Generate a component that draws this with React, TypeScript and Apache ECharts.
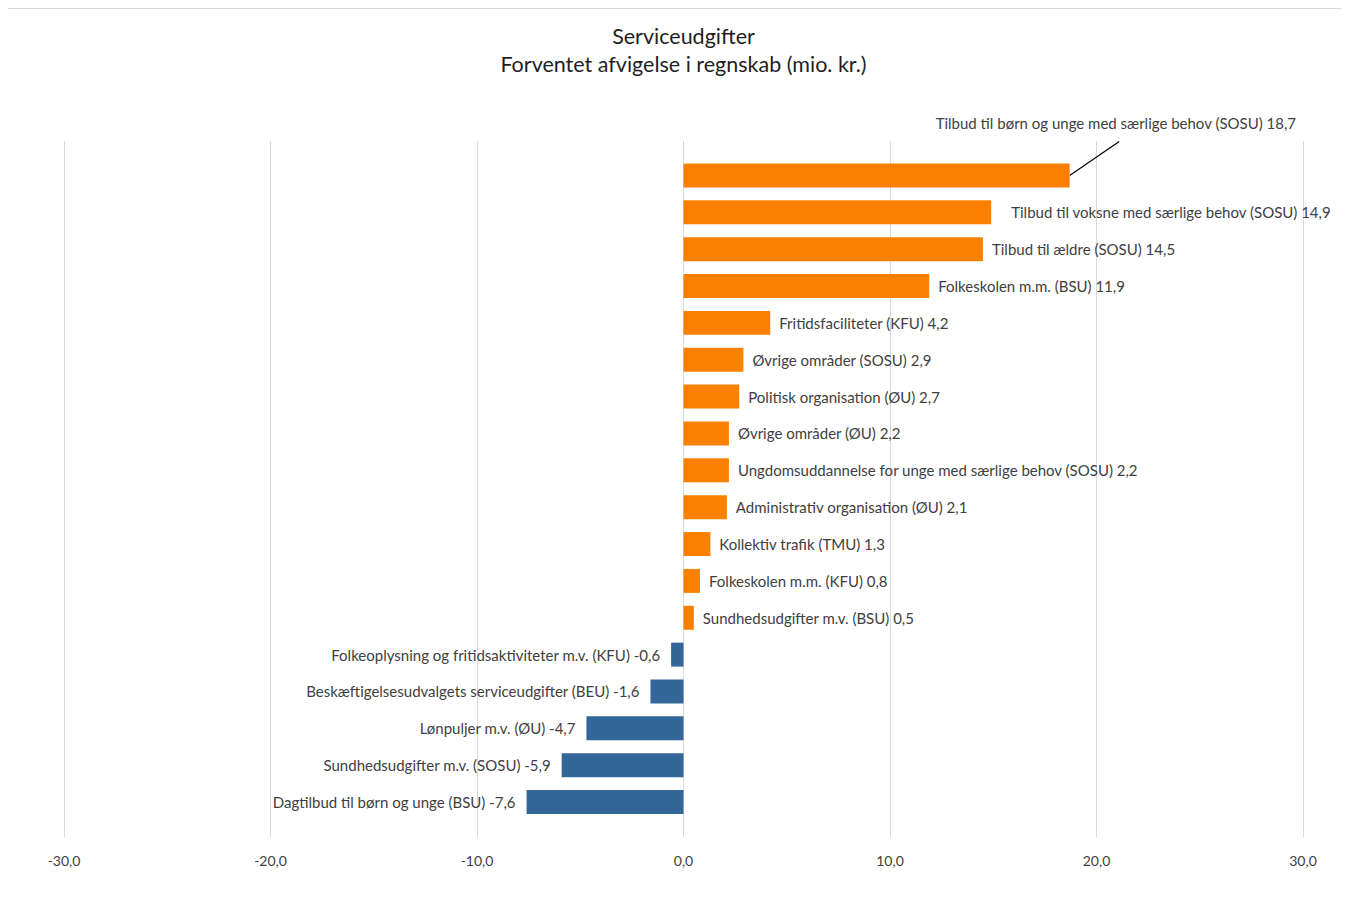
import React, { useEffect, useRef } from "react";
import * as echarts from "echarts";

const categories = [
  "Tilbud til børn og unge med særlige behov (SOSU)",
  "Tilbud til voksne med særlige behov (SOSU)",
  "Tilbud til ældre (SOSU)",
  "Folkeskolen m.m. (BSU)",
  "Fritidsfaciliteter (KFU)",
  "Øvrige områder (SOSU)",
  "Politisk organisation (ØU)",
  "Øvrige områder (ØU)",
  "Ungdomsuddannelse for unge med særlige behov (SOSU)",
  "Administrativ organisation (ØU)",
  "Kollektiv trafik (TMU)",
  "Folkeskolen m.m. (KFU)",
  "Sundhedsudgifter m.v. (BSU)",
  "Folkeoplysning og fritidsaktiviteter m.v. (KFU)",
  "Beskæftigelsesudvalgets serviceudgifter (BEU)",
  "Lønpuljer m.v. (ØU)",
  "Sundhedsudgifter m.v. (SOSU)",
  "Dagtilbud til børn og unge (BSU)",
];

const values = [
  18.7, 14.9, 14.5, 11.9, 4.2, 2.9, 2.7, 2.2, 2.2, 2.1, 1.3, 0.8, 0.5, -0.6, -1.6,
  -4.7, -5.9, -7.6,
];

const axisMin = -30;
const axisMax = 30;
const axisStep = 10;

const titleLines = ["Serviceudgifter", "Forventet afvigelse i regnskab (mio. kr.)"];

const ORANGE = "#FB8000";
const BLUE = "#336699";
const TEXT = "#404040";
const GRID = "#D9D9D9";
const FONT = "Lato, 'Noto Sans', sans-serif";

const fmt = (v: number) => v.toFixed(1).replace(".", ",");

export default function App() {
  const ref = useRef<HTMLDivElement>(null);

  useEffect(() => {
    if (!ref.current) return;
    const chart = echarts.init(ref.current, null, { renderer: "svg" });

    const data = values.map((v, i) => {
      const pos = v >= 0;
      return {
        value: v,
        itemStyle: { color: pos ? ORANGE : BLUE },
        label: {
          position: pos ? "right" : "left",
          distance: i === 1 ? 20 : pos ? 9 : 11,
        },
      };
    });

    const plotLeft = 56;
    const plotWidth = 1239;

    const option = {
      animation: false,
      backgroundColor: "#ffffff",
      textStyle: { fontFamily: FONT },
      graphic: [
        {
          type: "text",
          x: plotLeft + plotWidth / 2,
          y: 27,
          style: {
            text: titleLines[0],
            fontFamily: FONT,
            fontSize: 21.5,
            fill: "#1f1f1f",
            align: "center",
            verticalAlign: "middle",
          },
        },
        {
          type: "text",
          x: plotLeft + plotWidth / 2,
          y: 55,
          style: {
            text: titleLines[1],
            fontFamily: FONT,
            fontSize: 21.5,
            fill: "#1f1f1f",
            align: "center",
            verticalAlign: "middle",
          },
        },
      ],
      grid: [
        { left: plotLeft, width: plotWidth, top: 132, height: 696, containLabel: false },
        { left: plotLeft, width: plotWidth, top: 148, height: 663.5, containLabel: false },
      ],
      xAxis: [
        {
          type: "value",
          gridIndex: 0,
          min: axisMin,
          max: axisMax,
          interval: axisStep,
          axisLine: { show: false },
          axisTick: { show: false },
          splitLine: { show: true, lineStyle: { color: GRID, width: 1 } },
          axisLabel: {
            margin: 16,
            color: TEXT,
            fontFamily: FONT,
            fontSize: 14,
            formatter: (v: number) => fmt(v),
          },
        },
        {
          type: "value",
          gridIndex: 1,
          min: axisMin,
          max: axisMax,
          interval: axisStep,
          show: false,
          splitLine: { show: false },
        },
      ],
      yAxis: [
        { type: "value", gridIndex: 0, show: false, splitLine: { show: false } },
        {
          type: "category",
          gridIndex: 1,
          data: categories,
          inverse: true,
          show: false,
          axisLine: { show: false },
          axisTick: { show: false },
          splitLine: { show: false },
        },
      ],
      series: [
        {
          type: "bar",
          xAxisIndex: 1,
          yAxisIndex: 1,
          data,
          barCategoryGap: "35%",
          label: {
            show: true,
            color: TEXT,
            fontFamily: FONT,
            fontSize: 15,
            formatter: (p: any) => `${p.name} ${fmt(p.value)}`,
          },
          labelLayout: (p: any) => {
            if (p.dataIndex !== 0) return {};
            const r = p.rect;
            const barEndX = r.x + r.width;
            const barMidY = r.y + r.height / 2;
            return {
              x: barEndX - 134,
              y: barMidY - 52,
              align: "left",
              verticalAlign: "middle",
            };
          },
        },
        {
          // leader line from the largest bar's end up to its moved label
          type: "custom",
          xAxisIndex: 1,
          yAxisIndex: 1,
          clip: false,
          silent: true,
          data: [[values[0], 0]],
          renderItem: (params: any, api: any) => {
            const p = api.coord([api.value(0), api.value(1)]);
            const unitX = api.size([1, 0])[0];
            const band = api.size([0, 1])[1];
            return {
              type: "line",
              shape: {
                x1: p[0],
                y1: p[1],
                x2: p[0] + 2.4 * unitX,
                y2: p[1] - 0.92 * band,
              },
              style: { stroke: "#000000", lineWidth: 1.2 },
            };
          },
        },
      ],
    };

    chart.setOption(option);

    return () => chart.dispose();
  }, []);

  return (
    <div
      style={{
        width: 1341,
        height: 895,
        marginLeft: -1,
        borderTop: "1px solid #D9D9D9",
        borderLeft: "1px solid #D9D9D9",
      }}
    >
      <div ref={ref} style={{ width: 1340, height: 894 }} />
    </div>
  );
}
